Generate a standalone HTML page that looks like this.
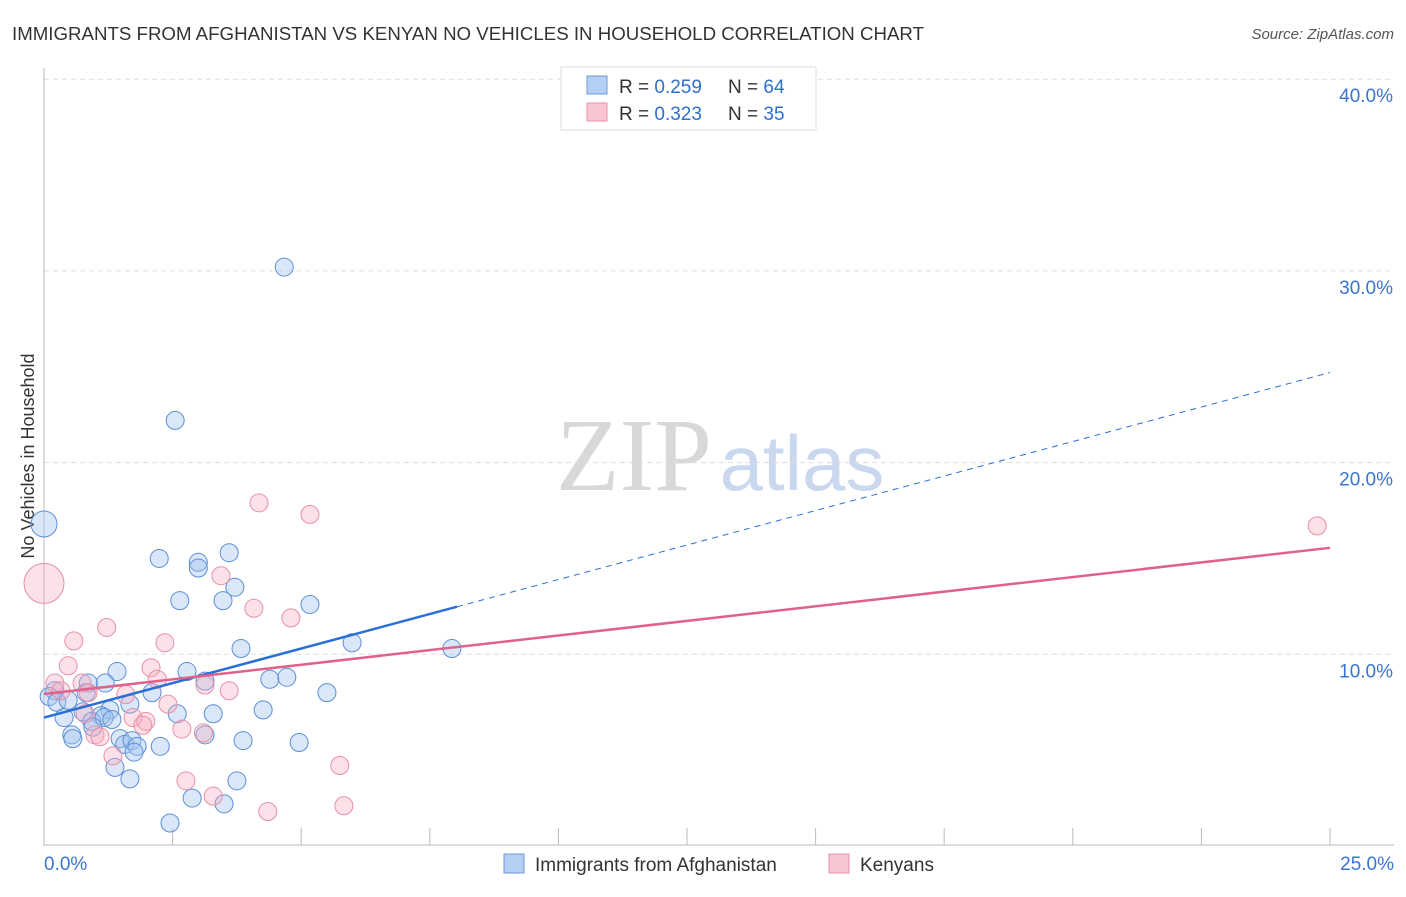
<!DOCTYPE html>
<html><head><meta charset="utf-8"><style>
body{margin:0;background:#fff;font-family:"Liberation Sans",sans-serif}
</style></head><body>
<svg id="chart" width="1406" height="892" xmlns="http://www.w3.org/2000/svg" font-family="Liberation Sans, sans-serif">
<text x="12" y="40" font-size="18" fill="#333" textLength="912" lengthAdjust="spacingAndGlyphs">IMMIGRANTS FROM AFGHANISTAN VS KENYAN NO VEHICLES IN HOUSEHOLD CORRELATION CHART</text>
<text x="1394" y="39" font-size="15" fill="#555" text-anchor="end" font-style="italic">Source: ZipAtlas.com</text>
<text transform="translate(34,456) rotate(-90)" font-size="18" fill="#333" text-anchor="middle">No Vehicles in Household</text>
<g>
<text x="634" y="490" font-size="104" font-family="Liberation Serif, serif" fill="#d8d8d8" text-anchor="middle">ZIP</text>
<text x="802" y="490" font-size="78" fill="#c9d8ee" text-anchor="middle">atlas</text>
</g>
<g id="grid"></g><g id="axes"></g><g id="pts"></g><g id="lines"></g>
<g>
<rect x="561" y="67" width="255" height="63" fill="#fff" stroke="#ddd"/>
<rect x="587" y="76" width="20" height="18" fill="#b3cff3" stroke="#6f9ad8"/>
<text x="619" y="93" font-size="19" fill="#333">R = <tspan fill="#2f6fd0">0.259</tspan></text>
<text x="728" y="93" font-size="19" fill="#333">N = <tspan fill="#2f6fd0">64</tspan></text>
<rect x="587" y="103" width="20" height="18" fill="#f8c5d3" stroke="#e890a8"/>
<text x="619" y="120" font-size="19" fill="#333">R = <tspan fill="#2f6fd0">0.323</tspan></text>
<text x="728" y="120" font-size="19" fill="#333">N = <tspan fill="#2f6fd0">35</tspan></text>
</g>
<g>
<rect x="504" y="854" width="20" height="19" fill="#b3cff3" stroke="#6f9ad8"/>
<text x="535" y="871" font-size="19" fill="#333">Immigrants from Afghanistan</text>
<rect x="829" y="854" width="20" height="19" fill="#f8c5d3" stroke="#e890a8"/>
<text x="860" y="871" font-size="19" fill="#333">Kenyans</text>
</g>
</svg>
<script>
const NS="http://www.w3.org/2000/svg";
const yTicks=[10,20,30,40];
const yTickLabels=["10.0%","20.0%","30.0%","40.0%"];
const xTickLabels=["0.0%","25.0%"];
const afgX=[0,4.67,2.55,2.24,3.0,3.0,3.6,3.71,2.64,3.48,5.17,5.99,7.93,3.83,1.42,2.78,3.13,4.39,4.72,5.5,2.1,1.19,0.86,0.82,0.21,0.1,0.25,0.47,1.28,1.11,0.76,0.39,0.93,1.17,1.32,1.67,2.59,3.29,4.26,0.95,0.54,0.56,1.48,1.57,1.71,1.81,1.75,2.26,3.13,3.87,4.96,1.38,1.67,3.75,2.88,3.5,2.45];
const afgY=[16.8,30.2,22.2,15.0,14.8,14.5,15.3,13.5,12.8,12.8,12.6,10.6,10.3,10.3,9.1,9.1,8.6,8.7,8.8,8.0,8.0,8.5,8.5,8.0,8.1,7.8,7.5,7.6,7.1,6.8,7.0,6.7,6.5,6.7,6.6,7.4,6.9,6.9,7.1,6.2,5.8,5.6,5.6,5.3,5.5,5.2,4.9,5.2,5.8,5.5,5.4,4.1,3.5,3.4,2.5,2.2,1.2];
const kenX=[0,4.18,5.17,24.75,3.44,4.08,4.8,1.22,2.35,0.58,0.47,2.08,2.2,0.74,0.21,0.33,0.86,1.59,3.13,3.6,2.41,0.8,1.73,1.98,1.92,2.68,3.1,0.99,1.09,1.34,2.76,3.29,5.75,5.83,4.35];
const kenY=[13.7,17.9,17.3,16.7,14.1,12.4,11.9,11.4,10.6,10.7,9.4,9.3,8.7,8.5,8.5,8.1,8.0,7.9,8.4,8.1,7.4,6.9,6.7,6.5,6.3,6.1,5.9,5.8,5.7,4.7,3.4,2.6,4.2,2.1,1.8];
const afgTrend=[6.7,0.72];const kenTrend=[7.93,0.305];
const X=v=>44+v*51.44, Y=v=>846-v*19.17;
function mk(t,a,p){const e=document.createElementNS(NS,t);for(const k in a)e.setAttribute(k,a[k]);p.appendChild(e);return e;}
const grid=document.getElementById('grid'),axes=document.getElementById('axes');
yTicks.forEach((t,i)=>{
 const l=mk('line',{x1:44,x2:1394,y1:Y(t),y2:Y(t),stroke:'#ddd','stroke-dasharray':'5,4'},grid);
 
 
 const tx=mk('text',{x:1393,y:Y(t)+23,'font-size':19,fill:'#3a75d0','text-anchor':'end'},axes);
 tx.textContent=yTickLabels[i];
 
 
});
mk('line',{x1:44,x2:44,y1:68,y2:846,stroke:'#bbb'},axes);
mk('line',{x1:44,x2:1394,y1:845,y2:845,stroke:'#bbb'},axes);
for(let i=0;i<=10;i++){const l=mk('line',{x1:X(i*2.5),x2:X(i*2.5),y1:828,y2:845,stroke:'#bbb'},axes);
 
 }
[[0,44,'start'],[25,1394,'end']].forEach((a,i)=>{const t=mk('text',{x:a[1],y:870,'font-size':19,fill:'#3a75d0','text-anchor':a[2]},axes);t.textContent=xTickLabels[i];
 
 });
const pts=document.getElementById('pts');
afgX.forEach((x,i)=>{const c=mk('circle',{cx:X(x),cy:Y(afgY[i]),r:i==0?13:9,fill:'rgba(160,195,240,0.4)',stroke:'#5b8fd8','stroke-width':1},pts);
 
 });
kenX.forEach((x,i)=>{const c=mk('circle',{cx:X(x),cy:Y(kenY[i]),r:i==0?20:9,fill:'rgba(245,170,190,0.35)',stroke:'#e890a8','stroke-width':1},pts);
 
 });
const lines=document.getElementById('lines');
const f=(t,x)=>t[0]+t[1]*x;
let l1=mk('line',{x1:X(0),y1:Y(f(afgTrend,0)),x2:X(8.03),y2:Y(f(afgTrend,8.03)),stroke:'#2a6fd6','stroke-width':2.5},lines);


let l2=mk('line',{x1:X(8.03),y1:Y(f(afgTrend,8.03)),x2:X(25),y2:Y(f(afgTrend,25)),stroke:'#2a6fd6','stroke-width':1,'stroke-dasharray':'6,5'},lines);


let l3=mk('line',{x1:X(0),y1:Y(f(kenTrend,0)),x2:X(25),y2:Y(f(kenTrend,25)),stroke:'#e0628a','stroke-width':2.5},lines);


</script>
</body></html>
